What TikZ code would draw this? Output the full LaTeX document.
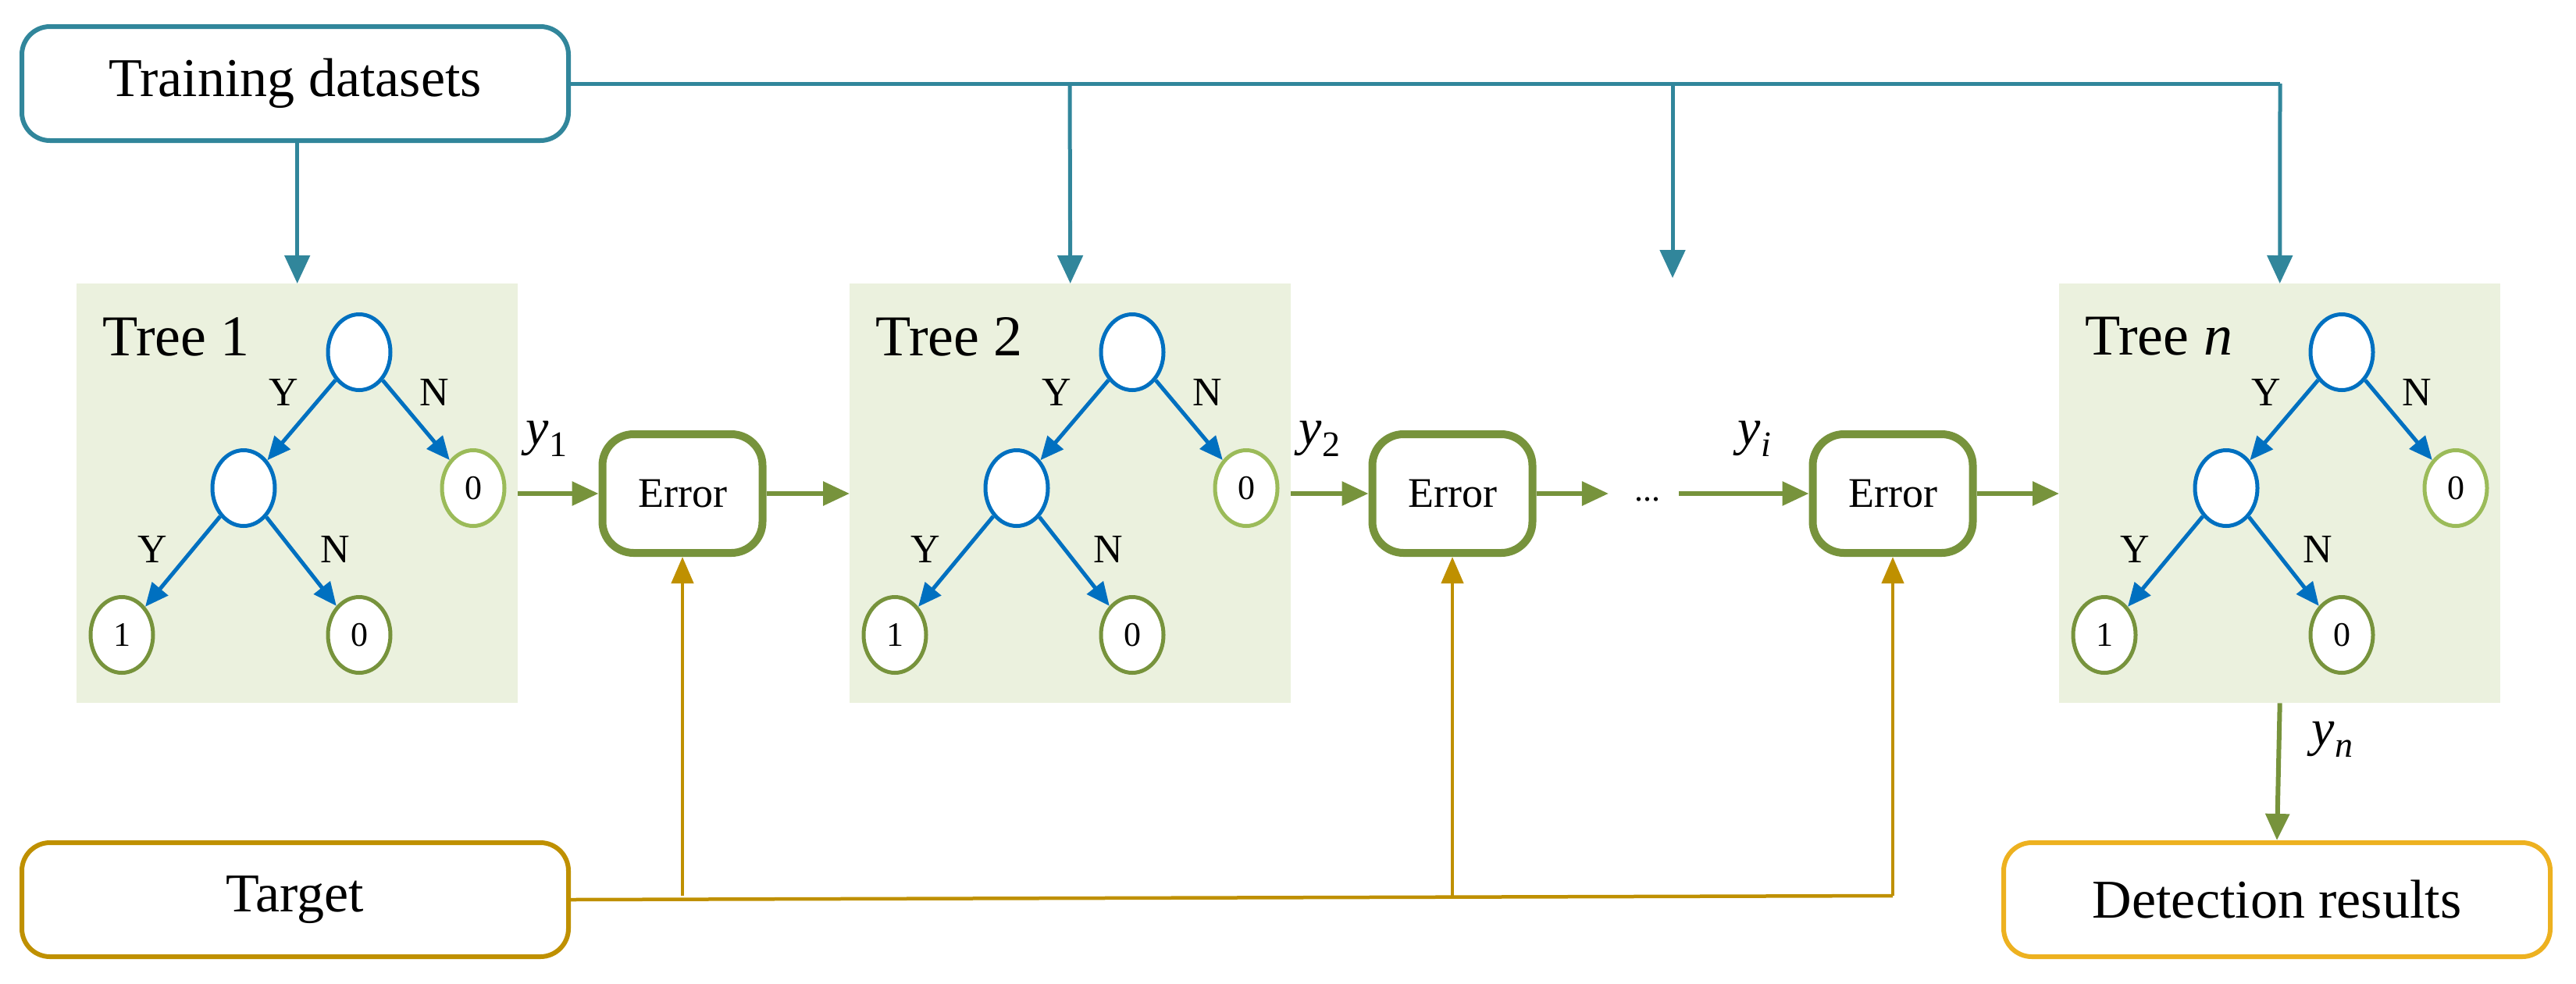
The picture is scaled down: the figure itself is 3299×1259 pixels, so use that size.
\documentclass[tikz,border=0pt]{standalone}
\usepackage{fontspec}
\setmainfont{Liberation Serif}
\usetikzlibrary{arrows.meta,shapes.geometric}
\definecolor{teal}{HTML}{31869B}
\definecolor{grn}{HTML}{77933C}
\definecolor{lgrn}{HTML}{9BBB59}
\definecolor{blu}{HTML}{0070C0}
\definecolor{gold}{HTML}{BF9000}
\definecolor{dorange}{HTML}{EDB120}
\definecolor{treefill}{HTML}{EBF1DE}
\newcommand\ysub[1]{\textit{y}\raisebox{-0.22em}{\fontsize{46}{46}\selectfont #1}}
\newcommand\fs[1]{\fontsize{#1}{#1}\selectfont}
\tikzset{
  io/.style={draw, line width=6pt, rounded corners=36pt, minimum width=700pt, minimum height=146pt, fill=white, font=\fs{70}},
  treebox/.style={fill=treefill, minimum width=565pt, minimum height=537pt, inner sep=0pt, anchor=north west},
  inner/.style={ellipse, draw=blu, line width=5pt, fill=white, minimum width=80pt, minimum height=97pt, inner sep=0pt},
  leaf/.style={ellipse, draw=grn, line width=5pt, fill=white, minimum width=80pt, minimum height=97pt, inner sep=0pt, font=\fs{44}},
  lleaf/.style={leaf, draw=lgrn},
  barr/.style={draw=blu, line width=5pt, -{Triangle[length=30pt,width=26pt]}},
  lab/.style={font=\fs{52}},
  err/.style={draw=grn, line width=10pt, rounded corners=40pt, minimum width=205pt, minimum height=152pt, fill=white, font=\fs{54}},
  garr/.style={draw=grn, line width=6pt, -{Triangle[length=34pt,width=30pt]}},
  tarr/.style={draw=teal, line width=5pt, -{Triangle[length=36pt,width=32pt]}},
  oarr/.style={draw=gold, line width=4.5pt, -{Triangle[length=34pt,width=28pt]}},
}
\newcommand\mytree[3]{%
  \node[treebox] (#1) at (#2,363) {};
  \node[font=\fs{74}, anchor=west] (#1lab) at (#2+30,431) {#3};
  \node[inner] (#1r) at (#2+362,451) {};
  \node[inner] (#1m) at (#2+214,625) {};
  \node[lleaf] (#1a) at (#2+508,625) {0};
  \node[leaf] (#1b) at (#2+58,813) {1};
  \node[leaf] (#1c) at (#2+362,813) {0};
  \draw[barr] (#1r) -- (#1m);
  \draw[barr] (#1r) -- (#1a);
  \draw[barr] (#1m) -- (#1b);
  \draw[barr] (#1m) -- (#1c);
  \node[lab] (#1y1) at (#2+265,502) {Y};
  \node[lab] (#1n1) at (#2+458,502) {N};
  \node[lab] (#1y2) at (#2+97,703) {Y};
  \node[lab] (#1n2) at (#2+331,703) {N};
}
\begin{document}
\begin{tikzpicture}[x=1pt,y=-1pt]
\useasboundingbox (0,0) rectangle (3299,1259);
\node[io, draw=teal] (train) at (378,107) {Training datasets};
\node[io, draw=gold] (target) at (378,1152) {Target};
\node[io, draw=dorange] (det) at (2916,1152) {Detection results};
\mytree{ta}{98}{Tree 1}
\mytree{tb}{1088}{Tree 2}
\mytree{tc}{2637}{Tree \textit{n}}
\node[err] (e1) at (874,632) {Error};
\node[err] (e2) at (1860,632) {Error};
\node[err] (e3) at (2424,632) {Error};
\node[font=\fs{44}] (dots) at (2110,640) {...};
\coordinate (c1) at (1370,107);
\coordinate (c2) at (2142,107);
\coordinate (c3) at (2920,107);
\coordinate (c2e) at (2142,356);
\draw[teal, line width=5pt] (train.east) -- (c3);
\draw[tarr] (train.south -| ta.north) -- (ta.north);
\draw[tarr] (c1) -- (tb.north);
\draw[tarr] (c2) -- (c2e);
\draw[tarr] (c3) -- (tc.north);
\draw[garr] (ta.east |- e1.west) -- (e1.west);
\draw[garr] (e1.east) -- (tb.west |- e1.east);
\draw[garr] (tb.east |- e2.west) -- (e2.west);
\draw[garr] (e2.east) -- ([xshift=-30pt]dots.west |- e2.east);
\draw[garr] ([xshift=20pt]dots.east |- e3.west) -- (e3.west);
\draw[garr] (e3.east) -- (tc.west |- e3.east);
\draw[garr] (tc.south) -- (det.north);
\coordinate (g1) at (874,1147);
\coordinate (g2) at (1860,1147);
\coordinate (g3) at (2424,1147);
\draw[gold, line width=4.5pt] (target.east) -- (g3);
\draw[oarr] (g1) -- (e1.south);
\draw[oarr] (g2) -- (e2.south);
\draw[oarr] (g3) -- (e3.south);
\node[font=\fs{66}] (y1) at (700,562) {\ysub{1}};
\node[font=\fs{66}] (y2) at (1690,562) {\ysub{2}};
\node[font=\fs{66}] (yi) at (2247,562) {\ysub{\textit{i}}};
\node[font=\fs{66}] (yn) at (2987,947) {\ysub{\textit{n}}};
\end{tikzpicture}
\end{document}
